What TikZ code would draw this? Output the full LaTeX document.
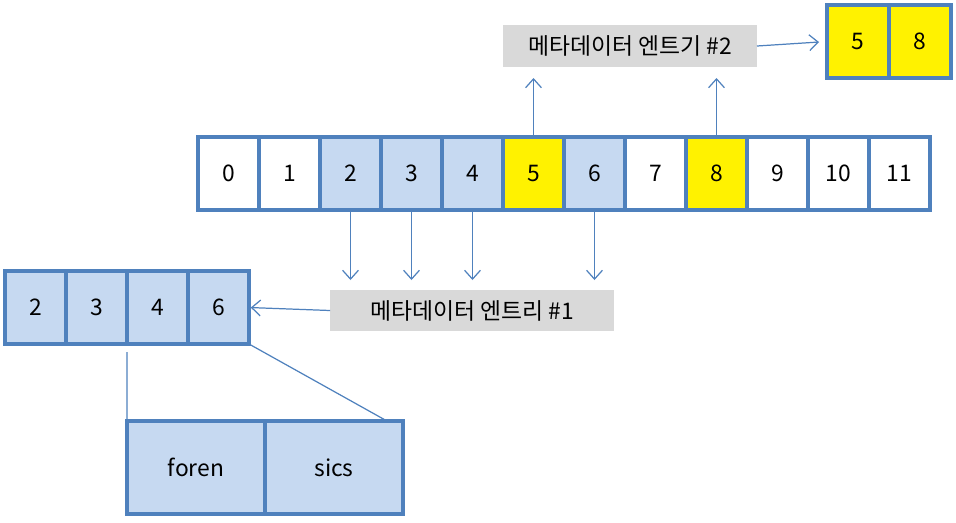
\documentclass[tikz,border=0pt]{standalone}
\usepackage{fontspec}
\setmainfont{Noto Sans CJK KR}
\usetikzlibrary{arrows.meta}
\definecolor{edgeblue}{HTML}{4F81BD}
\definecolor{cellfill}{HTML}{C6D9F1}
\definecolor{labelgray}{HTML}{D9D9D9}

\begin{document}
\begin{tikzpicture}[x=0.02cm,y=-0.02cm,font=\fontsize{13}{15}\selectfont,
  cell/.style={draw=edgeblue,line width=2pt,minimum width=1.22cm,minimum height=1.46cm,inner sep=0pt,outer sep=0pt},
  tag/.style={fill=labelgray,inner sep=0pt,outer sep=0pt},
  link/.style={edgeblue,line width=0.7pt},
  pointer/.style={link,-{Straight Barb[length=5pt,width=9pt]}}]
\useasboundingbox (0,0) rectangle (956,522);
% block row
\foreach \i/\c in {0/white,1/white,2/cellfill,3/cellfill,4/cellfill,5/yellow,6/cellfill,7/white,8/yellow,9/white,10/white,11/white}
  \node[cell,fill=\c] (c\i) at ({228.5+61*\i},173.5) {\i};
% metadata entries
\node[tag,minimum width=5.08cm,minimum height=0.84cm] (entry2) at (630,46) {메타데이터 엔트기 \#2};
\node[tag,minimum width=5.68cm,minimum height=0.82cm] (entry1) at (472,310.5) {메타데이터 엔트리 \#1};
\node[cell,fill=yellow,minimum width=1.24cm] (t5) at (858,41.5) {5};
\node[cell,fill=yellow,minimum width=1.24cm] (t8) at (920,41.5) {8};
\foreach \v [count=\k from 0] in {2,3,4,6}
  \node[cell,fill=cellfill] (l\v) at ({35.5+61*\k},307.5) {\v};
\node[cell,fill=cellfill,minimum width=2.76cm,minimum height=1.86cm] (foren) at (196,467.5) {foren};
\node[cell,fill=cellfill,minimum width=2.76cm,minimum height=1.86cm] (sics) at (334,467.5) {sics};
% arrows
\foreach \i in {5,8}
  \draw[pointer,shorten >=0.22cm] (c\i.north) -- (c\i.north |- entry2.south);
\draw[pointer,shorten >=0.16cm] (entry2.east) -- (t5.west);
\foreach \i in {2,3,4,6}
  \draw[pointer,shorten >=0.2cm] (c\i.south) -- (c\i.south |- entry1.north);
\draw[pointer,shorten >=1pt] (entry1.west) -- (l6.east);
\draw[link,shorten <=0.16cm] (l3.south east) -- (foren.north west);
\coordinate (sicsend) at (387,421);
\draw[link] (l6.south east) -- (sicsend);
\end{tikzpicture}
\end{document}
